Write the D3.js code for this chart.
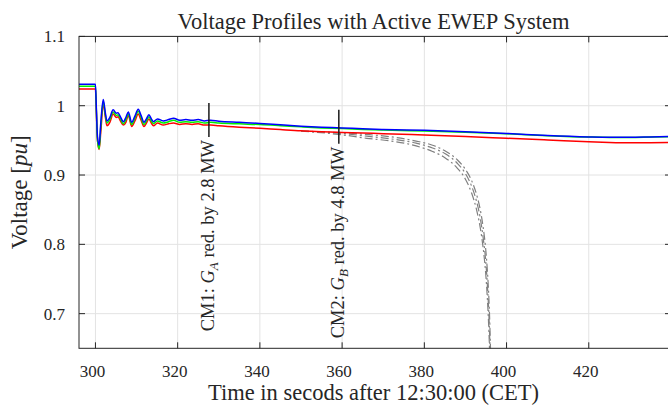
<!DOCTYPE html>
<html>
<head>
<meta charset="utf-8">
<script src="https://cdn.jsdelivr.net/npm/d3@7"></script>
<style>
  html, body { margin: 0; padding: 0; background: #fff; }
  svg { display: block; }
  text { font-family: "Liberation Serif", "Times New Roman", serif; fill: #262626; }
</style>
</head>
<body>
<svg id="chart" width="668" height="406"></svg>
<script>
// ---------- data ----------
const title = "Voltage Profiles with Active EWEP System";
const xLabel = "Time in secods after 12:30:00 (CET)";
const xTicks = [300, 320, 340, 360, 380, 400, 420, 440];
const yTicks = [0.7, 0.8, 0.9, 1.0, 1.1];
const yTickLabels = ["0.7", "0.8", "0.9", "1", "1.1"];

const time = [296, 300.0, 300.2, 300.5, 300.9, 301.3, 301.9, 302.4, 302.8, 303.5, 304.3, 305.1, 305.5, 306.0,
  306.8, 307.4, 308.0, 308.8, 309.6, 310.4, 311.1, 311.8, 312.4, 313.0, 313.6, 314.1, 315.1, 316.5, 317.8,
  319, 320.5, 322, 323.5, 325, 326.5, 328, 330, 335, 340, 345, 350, 355, 360, 365, 370, 380, 390, 400,
  410, 420, 425, 430, 435, 440];
const blueV = [1.031, 1.031, 1.000, 0.955, 0.943, 0.975, 1.009, 0.990, 0.978, 0.983, 0.994, 0.989, 0.990, 0.985,
  0.977, 0.983, 0.991, 0.976, 0.985, 0.995, 0.986, 0.976, 0.981, 0.987, 0.981, 0.977, 0.981, 0.978, 0.980,
  0.982, 0.979, 0.980, 0.979, 0.980, 0.978, 0.979, 0.9775, 0.976, 0.9745, 0.9725, 0.9705, 0.969, 0.968, 0.9668,
  0.9658, 0.9645, 0.9625, 0.960, 0.957, 0.955, 0.9545, 0.9545, 0.955, 0.9555];
const greenV = [1.028, 1.028, 0.997, 0.950, 0.938, 0.970, 1.006, 0.987, 0.975, 0.980, 0.991, 0.986, 0.987, 0.982,
  0.974, 0.980, 0.988, 0.973, 0.982, 0.992, 0.983, 0.973, 0.978, 0.984, 0.978, 0.974, 0.978, 0.975, 0.977,
  0.979, 0.976, 0.977, 0.976, 0.977, 0.975, 0.976, 0.975, 0.9738, 0.9728, 0.9712, 0.9695, 0.968, 0.967, 0.9658,
  0.9648, 0.9635, 0.9618, 0.9595, 0.9568, 0.9548, 0.9543, 0.9543, 0.9548, 0.9553];
const redV = [1.024, 1.024, 0.995, 0.950, 0.937, 0.962, 1.003, 0.984, 0.971, 0.976, 0.988, 0.983, 0.984, 0.979,
  0.972, 0.976, 0.986, 0.970, 0.978, 0.988, 0.979, 0.970, 0.975, 0.981, 0.975, 0.971, 0.975, 0.972, 0.974,
  0.975, 0.973, 0.974, 0.973, 0.974, 0.972, 0.972, 0.971, 0.969, 0.9674, 0.9655, 0.9637, 0.9625, 0.9614, 0.9605,
  0.9597, 0.9577, 0.9555, 0.953, 0.9505, 0.948, 0.947, 0.9465, 0.9466, 0.9468];

const grayTime = [350, 356, 360, 366, 372, 378, 382, 385, 388, 390, 391.5, 392.7, 393.6, 394.3, 394.9, 395.3,
  395.6, 395.85, 396.05, 396.3];
const gray1V = [0.9635, 0.9620, 0.9610, 0.9585, 0.955, 0.949, 0.943, 0.935, 0.922, 0.908, 0.892, 0.872, 0.850, 0.825,
  0.795, 0.765, 0.735, 0.700, 0.660, 0.60];
const gray2V = [0.9635, 0.9615, 0.9600, 0.956, 0.952, 0.946, 0.939, 0.931, 0.917, 0.902, 0.884, 0.862, 0.838, 0.810,
  0.778, 0.745, 0.712, 0.675, 0.630, 0.58];
const gray3V = [0.9633, 0.9605, 0.9580, 0.953, 0.949, 0.942, 0.934, 0.925, 0.910, 0.894, 0.874, 0.850, 0.824, 0.795,
  0.760, 0.725, 0.690, 0.650, 0.600, 0.55];

const cmTimes = [327.6, 359.2];
const cmTop = [1.004, 0.994];
const cmBottom = [0.955, 0.945];
const cmPrefix = ["CM1: ", "CM2: "];
const cmGen = ["A", "B"];
const cmSuffix = [" red. by 2.8 MW", " red. by 4.8 MW"];

// ---------- layout ----------
const svg = d3.select("#chart");
const pLeft = 79, pRight = 671, pTop = 36.4, pBottom = 348.3;
const x = d3.scaleLinear().domain([296, 440]).range([pLeft, pRight]);
const y = d3.scaleLinear().domain([0.65, 1.1]).range([pBottom, pTop]);
const axisColor = "#262626";
const tickLen = 6;

svg.append("defs").append("clipPath").attr("id", "clip")
  .append("rect").attr("x", pLeft).attr("y", pTop).attr("width", pRight - pLeft).attr("height", pBottom - pTop);

// grid
const grid = svg.append("g");
grid.selectAll("line.gx").data(xTicks).join("line").attr("class", "gx")
  .attr("x1", d => x(d)).attr("x2", d => x(d)).attr("y1", pTop).attr("y2", pBottom)
  .attr("stroke", "#e3e3e3").attr("stroke-width", 1);
grid.selectAll("line.gy").data(yTicks).join("line").attr("class", "gy")
  .attr("x1", pLeft).attr("x2", pRight).attr("y1", d => y(d)).attr("y2", d => y(d))
  .attr("stroke", "#e3e3e3").attr("stroke-width", 1);

// lines
const plot = svg.append("g").attr("clip-path", "url(#clip)");
const line = d3.line().x(d => x(d[0])).y(d => y(d[1])).curve(d3.curveMonotoneX);

const grays = [gray1V, gray2V, gray3V];
grays.forEach(vals => {
  plot.append("path").datum(grayTime.map((t, i) => [t, vals[i]]))
    .attr("d", line).attr("fill", "none").attr("stroke", "#808080")
    .attr("stroke-width", 1.2).attr("stroke-dasharray", "8,3,2,3");
});

const series = [
  { vals: redV, color: "#ff0000" },
  { vals: greenV, color: "#00f000" },
  { vals: blueV, color: "#0000ff" }
];
series.forEach(s => {
  plot.append("path").datum(time.map((t, i) => [t, s.vals[i]]))
    .attr("d", line).attr("fill", "none").attr("stroke", s.color).attr("stroke-width", 1.5);
});

// CM markers
cmTimes.forEach((t, i) => {
  svg.append("line").attr("x1", x(t)).attr("x2", x(t)).attr("y1", y(cmTop[i])).attr("y2", y(cmBottom[i]))
    .attr("stroke", "#1a1a1a").attr("stroke-width", 1.5);
  const tx = x(t) + 5, ty = y(cmBottom[i]) + 3;
  const txt = svg.append("text").attr("transform", `translate(${tx},${ty}) rotate(-90)`)
    .attr("text-anchor", "end").style("font-size", "18.5px");
  txt.append("tspan").text(cmPrefix[i]);
  txt.append("tspan").style("font-style", "italic").text("G");
  txt.append("tspan").style("font-style", "italic").style("font-size", "13px").attr("dy", 4).text(cmGen[i]);
  txt.append("tspan").attr("dy", -4).text(cmSuffix[i]);
});

// box
svg.append("rect").attr("x", pLeft).attr("y", pTop).attr("width", pRight - pLeft).attr("height", pBottom - pTop)
  .attr("fill", "none").attr("stroke", axisColor).attr("stroke-width", 1);

// ticks (inward)
const ticks = svg.append("g").attr("stroke", axisColor).attr("stroke-width", 1);
xTicks.forEach(t => {
  ticks.append("line").attr("x1", x(t)).attr("x2", x(t)).attr("y1", pBottom).attr("y2", pBottom - tickLen);
  ticks.append("line").attr("x1", x(t)).attr("x2", x(t)).attr("y1", pTop).attr("y2", pTop + tickLen);
});
yTicks.forEach(t => {
  ticks.append("line").attr("x1", pLeft).attr("x2", pLeft + tickLen).attr("y1", y(t)).attr("y2", y(t));
  ticks.append("line").attr("x1", pRight).attr("x2", pRight - tickLen).attr("y1", y(t)).attr("y2", y(t));
});

// tick labels
svg.append("g").selectAll("text").data(xTicks.filter(t => x(t) < 660)).join("text")
  .attr("x", d => x(d) - 3).attr("y", 376.5).attr("text-anchor", "middle")
  .style("font-size", "17px").text(d => d);
svg.append("g").selectAll("text").data(yTicks).join("text")
  .attr("x", 65).attr("y", d => y(d) + 6).attr("text-anchor", "end")
  .style("font-size", "17px").text((d, i) => yTickLabels[i]);

// axis labels
svg.append("text").attr("x", (pLeft + 668) / 2).attr("y", 400).attr("text-anchor", "middle")
  .style("font-size", "22.5px").text(xLabel);
const yl = svg.append("text").attr("transform", `translate(27,${(pTop + pBottom) / 2}) rotate(-90)`)
  .attr("text-anchor", "middle").style("font-size", "23px");
yl.append("tspan").text("Voltage [");
yl.append("tspan").style("font-style", "italic").text("pu");
yl.append("tspan").text("]");

svg.append("text").attr("x", (pLeft + 668) / 2).attr("y", 29).attr("text-anchor", "middle")
  .style("font-size", "22.5px").text(title);
</script>
</body>
</html>
